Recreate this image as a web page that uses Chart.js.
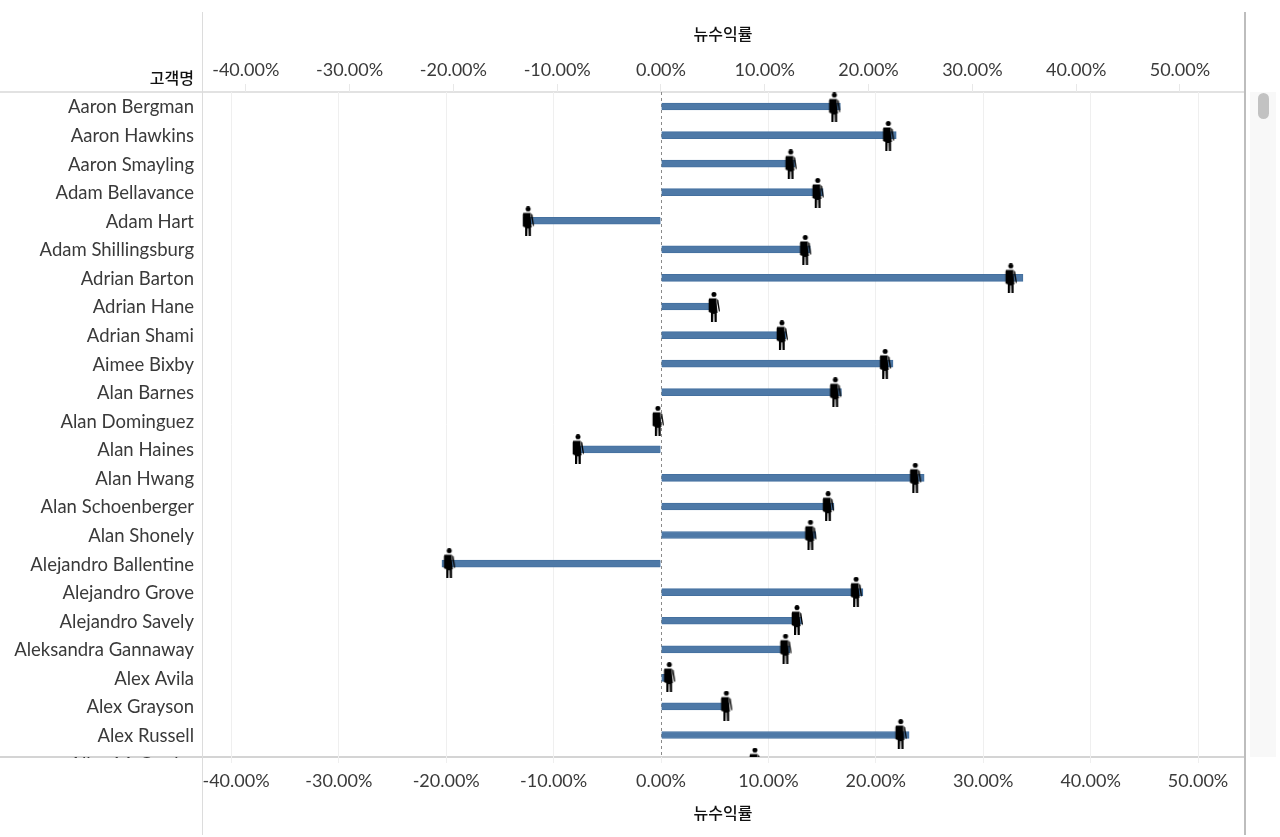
<!DOCTYPE html>
<html lang="ko">
<head>
<meta charset="utf-8">
<title>뉴수익률</title>
<script src="https://cdn.jsdelivr.net/npm/chart.js@4/dist/chart.umd.min.js"></script>
<style>
  html, body { margin: 0; padding: 0; background: #fff; overflow: hidden; }
  #wrap { position: relative; width: 1280px; height: 837px; }
  #track { position: absolute; left: 1250px; top: 92px; width: 26px; height: 665px; background: #f8f8f8; }
  #thumb { position: absolute; left: 8px; top: 1px; width: 11px; height: 26px; border-radius: 6px; background: #c2c2c2; }
</style>
</head>
<body>
<div id="wrap">
  <canvas id="chart" width="1280" height="837"></canvas>
  <div id="track"><div id="thumb"></div></div>
</div>
<script>
// customers, top to bottom (the last one is cut off by the scroll view)
const customers = [
  'Aaron Bergman', 'Aaron Hawkins', 'Aaron Smayling', 'Adam Bellavance', 'Adam Hart',
  'Adam Shillingsburg', 'Adrian Barton', 'Adrian Hane', 'Adrian Shami', 'Aimee Bixby',
  'Alan Barnes', 'Alan Dominguez', 'Alan Haines', 'Alan Hwang', 'Alan Schoenberger',
  'Alan Shonely', 'Alejandro Ballentine', 'Alejandro Grove', 'Alejandro Savely',
  'Aleksandra Gannaway', 'Alex Avila', 'Alex Grayson', 'Alex Russell', 'Alice McCarthy'
];
// profit ratio in percent
const profitRatio = [
  16.7, 21.9, 12.5, 15.1, -12.8,
  13.9, 33.7, 5.1, 11.65, 21.6,
  16.8, -0.3, -8.0, 24.5, 16.1,
  14.4, -20.4, 18.8, 13.1,
  12.0, 0.8, 6.3, 23.1, 9.05
];
const percentTicks = [-40, -30, -20, -10, 0, 10, 20, 30, 40, 50];
const axisTitle = '뉴수익률';
const rowTitle = '고객명';

const LATIN = 'Lato, "Noto Sans", sans-serif';
const KOREAN = '"Noto Sans CJK KR", sans-serif';
const TEXT = '#3a3a3a';

// Black pictogram used as the point style, head on the centre line
function personIcon() {
  const c = document.createElement('canvas');
  c.width = 14;
  c.height = 30;
  const g = c.getContext('2d');
  g.fillStyle = '#000';
  g.beginPath();
  g.arc(7, 2.5, 2.5, 0, Math.PI * 2);
  g.fill();
  // torso and legs
  g.beginPath();
  g.moveTo(2.2, 6.5);
  g.lineTo(9.6, 6.5);
  g.lineTo(9.6, 11);
  g.lineTo(10.6, 21);
  g.lineTo(9.8, 21);
  g.lineTo(9.8, 30);
  g.lineTo(7.6, 30);
  g.lineTo(7.4, 22);
  g.lineTo(6.4, 22);
  g.lineTo(6.2, 30);
  g.lineTo(4, 30);
  g.lineTo(4, 21);
  g.lineTo(1.7, 20);
  g.lineTo(1.7, 8);
  g.closePath();
  g.fill();
  // free arm
  g.beginPath();
  g.moveTo(10.2, 7);
  g.lineTo(11.4, 8.4);
  g.lineTo(13, 19);
  g.lineTo(12, 20);
  g.lineTo(10.2, 11);
  g.closePath();
  g.fill();
  return c;
}

// Frame lines, corner caption and the clipped last row label
const framePlugin = {
  id: 'frame',
  beforeDraw(chart) {
    const { ctx, chartArea: a } = chart;
    ctx.save();
    ctx.fillStyle = '#e2e2e2';
    ctx.fillRect(0, a.top - 1, a.right, 2);
    ctx.fillStyle = '#d4d4d4';
    ctx.fillRect(0, a.bottom - 1, a.right, 2);
    ctx.fillStyle = '#dcdcdc';
    ctx.fillRect(a.left, 12, 1, 823);
    ctx.fillStyle = '#bdbdbd';
    ctx.fillRect(a.right, 12, 2, 823);
    ctx.restore();
  },
  afterDraw(chart) {
    const { ctx, chartArea: a, scales } = chart;
    ctx.save();
    ctx.textAlign = 'right';
    ctx.textBaseline = 'middle';
    ctx.fillStyle = '#111';
    ctx.font = '500 16px ' + KOREAN;
    ctx.fillText(rowTitle, a.left - 8, 78);
    ctx.beginPath();
    ctx.rect(0, a.top, a.left, a.bottom - a.top + 1);
    ctx.clip();
    ctx.font = '18.5px ' + LATIN;
    ctx.fillStyle = TEXT;
    const last = customers.length - 1;
    ctx.fillText(customers[last], a.left - 8, scales.y.getPixelForValue(last) + 1);
    ctx.restore();
  }
};

function onlyPercentTicks(scale) {
  scale.ticks = percentTicks.map(value => ({ value }));
}

new Chart(document.getElementById('chart'), {
  type: 'bar',
  plugins: [framePlugin],
  data: {
    datasets: [
      {
        type: 'scatter',
        label: 'icon',
        data: customers.map((name, i) => ({ x: profitRatio[i], y: i })),
        xAxisID: 'xTop',
        yAxisID: 'yIcon',
        pointStyle: personIcon(),
        pointRadius: 16,
        order: 1
      },
      {
        type: 'bar',
        label: axisTitle,
        indexAxis: 'y',
        grouped: false,
        data: customers.map((name, i) => ({ x: profitRatio[i], y: i })),
        xAxisID: 'x',
        yAxisID: 'y',
        backgroundColor: '#4e79a7',
        borderColor: '#44709f',
        borderWidth: 1,
        barThickness: 7,
        order: 2
      }
    ]
  },
  options: {
    responsive: false,
    animation: false,
    layout: { padding: { right: 36 } },
    plugins: { legend: { display: false }, tooltip: { enabled: false } },
    scales: {
      x: {
        type: 'linear',
        axis: 'x',
        position: 'bottom',
        offset: false,
        min: -42.74,
        max: 54.28,
        afterBuildTicks: onlyPercentTicks,
        afterFit: s => { s.height = 80; },
        border: {
          display: false,
          dash: c => (c.tick && c.tick.value === 0 ? [3, 3] : [])
        },
        grid: {
          offset: false,
          color: c => (c.tick && c.tick.value === 0 ? '#8a8a8a' : '#efefef'),
          tickColor: '#efefef',
          tickLength: 6
        },
        ticks: {
          autoSkip: false,
          maxRotation: 0,
          padding: 7,
          color: TEXT,
          font: { family: LATIN, size: 18 },
          callback: v => (v === -40 ? '\u00a0\u00a0' : '') + v.toFixed(2) + '%'
        },
        title: {
          display: true,
          text: axisTitle,
          color: '#111',
          font: { family: KOREAN, size: 16, weight: '500' },
          padding: { top: 14, bottom: 14 }
        }
      },
      xTop: {
        type: 'linear',
        axis: 'x',
        position: 'top',
        offset: false,
        min: -44.22,
        max: 56.17,
        afterBuildTicks: onlyPercentTicks,
        afterFit: s => { s.height = 92; },
        border: { display: false },
        grid: {
          offset: false,
          drawOnChartArea: false,
          tickColor: '#e8e8e8',
          tickLength: 8
        },
        ticks: {
          autoSkip: false,
          maxRotation: 0,
          padding: 3,
          color: TEXT,
          font: { family: LATIN, size: 18 },
          callback: v => v.toFixed(2) + '%'
        },
        title: {
          display: true,
          text: axisTitle,
          color: '#111',
          font: { family: KOREAN, size: 16, weight: '500' },
          padding: { top: 24, bottom: 14 }
        }
      },
      y: {
        type: 'linear',
        axis: 'y',
        position: 'left',
        reverse: true,
        offset: false,
        min: -0.5075,
        max: 22.77,
        afterBuildTicks: s => { s.ticks = customers.slice(0, 23).map((name, i) => ({ value: i })); },
        afterFit: s => { s.width = 202; },
        border: { display: false },
        grid: { display: false, drawTicks: false, offset: false },
        ticks: {
          autoSkip: false,
          padding: 8,
          labelOffset: 1,
          color: TEXT,
          font: { family: LATIN, size: 18.5 },
          callback: v => customers[v]
        }
      },
      // the icons sit on their own slightly different row axis
      yIcon: {
        type: 'linear',
        axis: 'y',
        display: false,
        reverse: true,
        offset: false,
        min: -0.544,
        max: 22.805
      }
    }
  }
});
</script>
</body>
</html>
